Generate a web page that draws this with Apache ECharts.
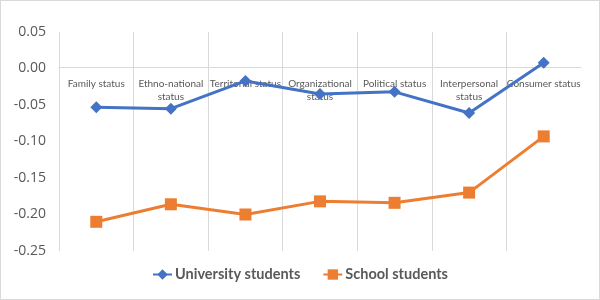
<!DOCTYPE html>
<html>
<head>
<meta charset="utf-8">
<script src="https://cdn.jsdelivr.net/npm/echarts@6/dist/echarts.min.js"></script>
<style>
  html, body { margin: 0; padding: 0; background: #fff; }
  #chart { width: 600px; height: 300px; box-sizing: border-box; border: 1px solid #d9d9d9; }
</style>
</head>
<body>
<div id="chart"></div>
<script>
var categories = ['Family status', 'Ethno-national\nstatus', 'Territorial status', 'Organizational\nstatus', 'Political status', 'Interpersonal\nstatus', 'Consumer status'];
var university = [-0.053, -0.055, -0.017, -0.035, -0.032, -0.061, 0.008];
var school = [-0.210, -0.186, -0.200, -0.182, -0.184, -0.170, -0.093];

var myChart = echarts.init(document.getElementById('chart'));
var option = {
    animation: false,
    grid: {
        left: 58,
        right: 18,
        top: 31,
        bottom: 48
    },
    legend: {
        bottom: 12,
        itemGap: 22,
        itemWidth: 19,
        itemHeight: 13,
        textStyle: {
            color: '#595959',
            fontSize: 14.5,
            fontWeight: 'bold',
            fontFamily: 'Lato',
            padding: [0, 0, 0, -2]
        },
        data: ['University students', 'School students']
    },
    xAxis: {
        type: 'category',
        data: categories,
        position: 'bottom',
        offset: -184,
        axisLine: {
            onZero: false,
            lineStyle: { color: '#d9d9d9' }
        },
        axisTick: { show: false },
        axisLabel: {
            interval: 0,
            margin: 10,
            color: '#595959',
            fontSize: 10,
            lineHeight: 13,
            fontFamily: 'Lato'
        },
        splitLine: {
            show: true,
            showMaxLine: false,
            lineStyle: { color: '#d9d9d9' }
        }
    },
    yAxis: {
        type: 'value',
        min: -0.25,
        max: 0.05,
        interval: 0.05,
        axisLine: { show: false },
        axisTick: { show: false },
        splitLine: { show: false },
        axisLabel: {
            margin: 13,
            color: '#595959',
            fontSize: 14,
            fontFamily: 'Open Sans',
            formatter: function (v) { return v.toFixed(2); }
        }
    },
    series: [{
        name: 'University students',
        type: 'line',
        data: university,
        symbol: 'diamond',
        symbolSize: 12,
        lineStyle: { color: '#4472c4', width: 3 },
        itemStyle: { color: '#4472c4' }
    }, {
        name: 'School students',
        type: 'line',
        data: school,
        symbol: 'rect',
        symbolSize: 12,
        lineStyle: { color: '#ed7d31', width: 3 },
        itemStyle: { color: '#ed7d31' }
    }]
};
myChart.setOption(option);
</script>
</body>
</html>
